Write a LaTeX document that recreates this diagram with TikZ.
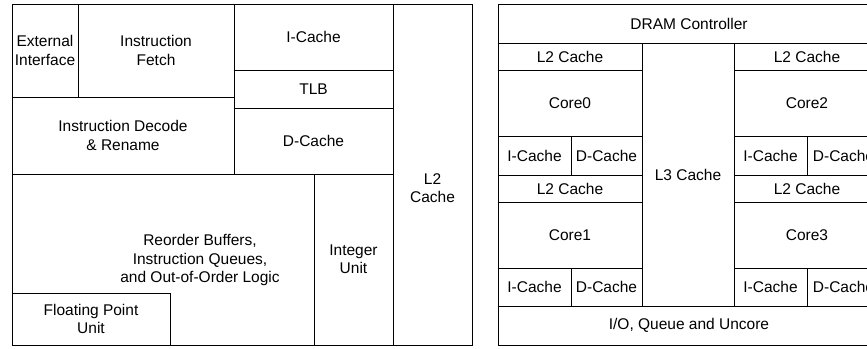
\documentclass[tikz,border=0pt]{standalone}
\usepackage{fontspec}
\setmainfont{Liberation Sans}
\usepackage{tikz}
\usetikzlibrary{positioning}

\begin{document}
\begin{tikzpicture}[x=1pt,y=-1pt,font=\fontsize{15.5}{18.3}\selectfont]
	\tikzstyle{block}=[draw=black,rectangle,line width=1pt,inner sep=0pt,outer sep=0pt,align=center]
	\tikzstyle{txt}=[inner sep=0pt,align=center]
	\useasboundingbox (0,0) rectangle (867,348);
	% single core
	\node[block,minimum width=460,minimum height=341](chip) at (242,174.5) {};
	\node[block,minimum width=66,minimum height=93](ext) at (45,50.5) {External\\Interface};
	\node[block,minimum width=156,minimum height=93](fetch) at (156,50.5) {Instruction\\Fetch};
	\node[block,minimum width=222,minimum height=77](decode) at (123,135.5) {Instruction Decode\\\& Rename};
	\node[block,minimum width=159,minimum height=66](icache) at (313.5,37) {I-Cache};
	\node[block,minimum width=159,minimum height=38](tlb) at (313.5,89) {TLB};
	\node[block,minimum width=159,minimum height=66](dcache) at (313.5,141) {D-Cache};
	\node[block,minimum width=79,minimum height=341](ltwo) at (432.5,174.5) {};
	\node[txt](ltwotxt) at (432.5,188) {L2\\Cache};
	\node[block,minimum width=302,minimum height=171](rob) at (163,259.5) {};
	\node[txt](robtxt) at (200,260) {Reorder Buffers,\\Instruction Queues,\\and Out-of-Order Logic};
	\node[block,minimum width=79,minimum height=171](intunit) at (353.5,259.5) {Integer\\Unit};
	\node[block,minimum width=158,minimum height=52](fpu) at (91,319) {Floating Point\\Unit};
	% multi core
	\node[block,minimum width=382,minimum height=341](multi) at (689,174.5) {};
	\node[block,minimum width=382,minimum height=39](dram) at (689,23.5) {DRAM Controller};
	\node[block,minimum width=92,minimum height=263](lthree) at (688,174.5) {L3 Cache};
	\node[block,minimum width=382,minimum height=39](io) at (689,325.5) {I/O, Queue and Uncore};
	\node[block,minimum width=144,minimum height=27](ltwo0) at (570,56.5) {L2 Cache};
	\node[block,minimum width=144,minimum height=66](core0) at (570,103) {Core0};
	\node[block,minimum width=73,minimum height=39](icache0) at (534.5,155.5) {I-Cache};
	\node[block,minimum width=71,minimum height=39](dcache0) at (606.5,155.5) {D-Cache};
	\node[block,minimum width=144,minimum height=27](ltwo1) at (570,188.5) {L2 Cache};
	\node[block,minimum width=144,minimum height=66](core1) at (570,235) {Core1};
	\node[block,minimum width=73,minimum height=38](icache1) at (534.5,287) {I-Cache};
	\node[block,minimum width=71,minimum height=38](dcache1) at (606.5,287) {D-Cache};
	\node[block,minimum width=146,minimum height=27](ltwo2) at (807,56.5) {L2 Cache};
	\node[block,minimum width=146,minimum height=66](core2) at (807,103) {Core2};
	\node[block,minimum width=73,minimum height=39](icache2) at (770.5,155.5) {I-Cache};
	\node[block,minimum width=73,minimum height=39](dcache2) at (843.5,155.5) {D-Cache};
	\node[block,minimum width=146,minimum height=27](ltwo3) at (807,188.5) {L2 Cache};
	\node[block,minimum width=146,minimum height=66](core3) at (807,235) {Core3};
	\node[block,minimum width=73,minimum height=38](icache3) at (770.5,287) {I-Cache};
	\node[block,minimum width=73,minimum height=38](dcache3) at (843.5,287) {D-Cache};
\end{tikzpicture}
\end{document}
